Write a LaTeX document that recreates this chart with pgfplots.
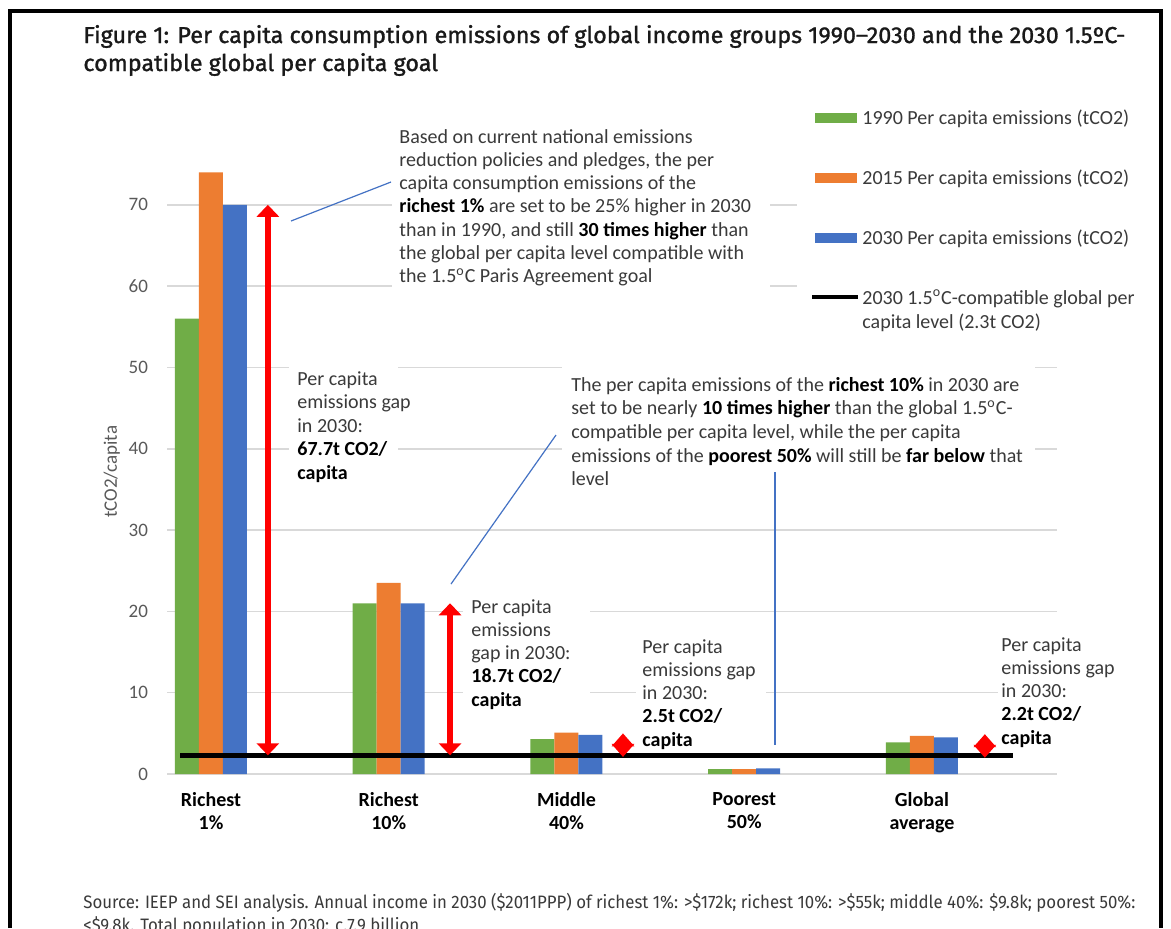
\documentclass[border=0pt]{standalone}
\usepackage{pgfplots}
\pgfplotsset{compat=1.18}
\usepackage{fontspec}
\setmainfont{Carlito}
\newfontfamily\titlefont[FakeBold=1.2]{Fira Sans}
\newfontfamily\sourcefont{Fira Sans}
\usetikzlibrary{arrows.meta}
\definecolor{cgreen}{HTML}{70AD47}
\definecolor{corange}{HTML}{ED7D31}
\definecolor{cblue}{HTML}{4472C4}
\definecolor{cgrid}{HTML}{D9D9D9}
\definecolor{ctick}{HTML}{595959}
\definecolor{ctext}{HTML}{3A3A3A}
\newlength\tw
\newlength\sw
\newcommand{\titleA}{Figure 1: Per capita consumption emissions of global income groups 1990–2030 and the 2030 1.5ºC-}
\newcommand{\sourceA}{Source: IEEP and SEI analysis. Annual income in 2030 (\$2011PPP) of richest 1\%: >\$172k; richest 10\%: >\$55k; middle 40\%: \$9.8k; poorest 50\%:}
\newcommand{\textlines}[5]{%
  \foreach \t [count=\i from 0] in {#5} {\node[anchor=base west, inner sep=0pt, font=\fontsize{10}{12}\selectfont, text=ctext] at (#1, #2+#3*\i) {\t};}}
\begin{document}
\settowidth\tw{\titlefont\fontsize{11.5}{13}\selectfont \titleA}%
\pgfmathsetmacro\sx{521pt/\tw}%
\settowidth\sw{\sourcefont\fontsize{9}{11}\selectfont \sourceA}%
\pgfmathsetmacro\ssx{526pt/\sw}%
\begin{tikzpicture}
\path[use as bounding box, clip] (0pt,0pt) rectangle (585.5pt,-464pt);
\fill[white] (0pt,0pt) rectangle (585.5pt,-464pt);
\begin{axis}[
  at={(83.5pt,-387pt)}, anchor=south west,
  scale only axis, width=445pt, height=309pt,
  xmin=-0.2475, xmax=4.76, ymin=0, ymax=76,
  axis line style={draw=none},
  major tick length=0pt,
  ytick={0,10,...,70},
  ymajorgrids, grid style={cgrid, line width=0.75pt},
  xtick={0,1,2,3,4},
  xticklabels={{Richest\\1\%},{Richest\\10\%},{Middle\\40\%},{Poorest\\50\%},{Global\\average}},
  xticklabel style={align=center, font=\fontsize{10}{11.5}\selectfont\bfseries, text=black, yshift=-5.5pt},
  yticklabel style={font=\fontsize{9.5}{11}\selectfont, text=ctick, xshift=-6pt},
  /pgf/number format/assume math mode=true,
  ylabel={tCO2/capita},
  ylabel style={at={(axis description cs:-0.062,0.489)}, anchor=center, font=\fontsize{9.5}{11}\selectfont, text=ctick},
  clip=false,
]
\addplot[ybar, bar width=0.135, bar shift=-0.135, fill=cgreen, draw=none] coordinates {(0,56) (1,21) (2,4.3) (3,0.6) (4,3.9)};
\addplot[ybar, bar width=0.135, bar shift=0, fill=corange, draw=none] coordinates {(0,74) (1,23.5) (2,5.1) (3,0.6) (4,4.7)};
\addplot[ybar, bar width=0.135, bar shift=0.135, fill=cblue, draw=none] coordinates {(0,70) (1,21) (2,4.8) (3,0.7) (4,4.5)};
\addplot[black, line width=2.5pt] coordinates {(-0.174,2.3) (4.51,2.3)};
\draw[red, line width=3pt, {Triangle[width=11pt,length=6pt]}-{Triangle[width=11pt,length=6pt]}] (axis cs:0.32,2.3) -- (axis cs:0.32,70);
\draw[red, line width=3pt, {Triangle[width=11pt,length=6pt]}-{Triangle[width=11pt,length=6pt]}] (axis cs:1.345,2.3) -- (axis cs:1.345,21);
\draw[red, line width=3pt, {Triangle[width=11pt,length=6.5pt]}-{Triangle[width=11pt,length=6.5pt]}] (axis cs:2.318,2.1) -- (axis cs:2.318,5.0);
\draw[red, line width=3pt, {Triangle[width=11pt,length=6.5pt]}-{Triangle[width=11pt,length=6.5pt]}] (axis cs:4.354,2.0) -- (axis cs:4.354,4.9);
\end{axis}
\begin{scope}[x=0.5pt,y=-0.5pt]
% frame
\draw[black, line width=2pt] (10,928) -- (10,10.5) -- (1161,10.5) -- (1161,928);
% title
\node[anchor=base west, inner sep=0pt, text={black!90}] at (83,43) {\scalebox{\sx}[1]{\titlefont\fontsize{11.5}{13}\selectfont \titleA}};
\node[anchor=base west, inner sep=0pt, text={black!90}] at (83,71) {\scalebox{\sx}[1]{\titlefont\fontsize{11.5}{13}\selectfont compatible global per capita goal}};
% white boxes
\fill[white] (392,122) rectangle (770,292);
\fill[white] (797,100) rectangle (1159,340);
\fill[white] (289,362) rectangle (398,490);
\fill[white] (562,365) rectangle (1035,492);
\fill[white] (463,592) rectangle (590,712);
\fill[white] (636,632) rectangle (766,750);
\fill[white] (998,628) rectangle (1159,750);
% legend
\fill[cgreen] (815,113) rectangle (857,123);
\fill[corange] (815,173) rectangle (857,183);
\fill[cblue] (815,233) rectangle (857,243);
\draw[black, line width=2pt] (812,297) -- (858,297);
\textlines{862}{124}{60}{}{{1990 Per capita emissions (tCO2)},{2015 Per capita emissions (tCO2)},{2030 Per capita emissions (tCO2)}}
\textlines{862}{304}{24}{}{{2030 1.5\textsuperscript{o}C-compatible global per},{capita level (2.3t CO2)}}
% annotations
\textlines{399}{143}{23.3}{}{{Based on current national emissions},{reduction policies and pledges, the per},{capita consumption emissions of the},{\textbf{\color{black}richest 1\%} are set to be 25\% higher in 2030},{than in 1990, and still \textbf{\color{black}30 times higher} than},{the global per capita level compatible with},{the 1.5\textsuperscript{o}C Paris Agreement goal}}
\textlines{297}{385}{23.5}{}{{Per capita},{emissions gap},{in 2030:},{\textbf{\color{black}67.7t CO2/}},{\textbf{\color{black}capita}}}
\textlines{571}{391}{23.7}{}{{The per capita emissions of the \textbf{\color{black}richest 10\%} in 2030 are},{set to be nearly \textbf{\color{black}10 times higher} than the global 1.5\textsuperscript{o}C-},{compatible per capita level, while the per capita},{emissions of the \textbf{\color{black}poorest 50\%} will still be \textbf{\color{black}far below} that},{level}}
\textlines{471}{613}{23.3}{}{{Per capita},{emissions},{gap in 2030:},{\textbf{\color{black}18.7t CO2/}},{\textbf{\color{black}capita}}}
\textlines{642}{653}{23.3}{}{{Per capita},{emissions gap},{in 2030:},{\textbf{\color{black}2.5t CO2/}},{\textbf{\color{black}capita}}}
\textlines{1001}{651}{23.3}{}{{Per capita},{emissions gap},{in 2030:},{\textbf{\color{black}2.2t CO2/}},{\textbf{\color{black}capita}}}
% connectors
\draw[cblue, line width=0.6pt] (291,221) -- (391,182);
\draw[cblue, line width=0.6pt] (451,584) -- (556,435);
\draw[cblue, line width=0.6pt] (775,472) -- (775,745);
% source
\node[anchor=base west, inner sep=0pt, text=ctext] at (83,908) {\scalebox{\ssx}[1]{\sourcefont\fontsize{9}{11}\selectfont \sourceA}};
\node[anchor=base west, inner sep=0pt, text=ctext] at (83,931) {\scalebox{\ssx}[1]{\sourcefont\fontsize{9}{11}\selectfont <\$9.8k. Total population in 2030: c.7.9 billion}};
\end{scope}
\end{tikzpicture}
\end{document}
